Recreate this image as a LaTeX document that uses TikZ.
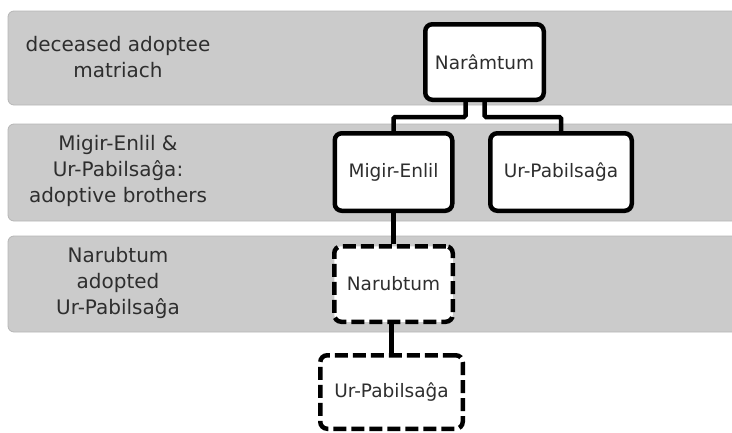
\documentclass[tikz,border=0pt]{standalone}
\usepackage{fontspec}
\setmainfont{DejaVu Sans}
\definecolor{bandgray}{HTML}{CBCBCB}
\definecolor{bandedge}{HTML}{B6B6B6}
\definecolor{inkgray}{HTML}{2E2E2E}
\begin{document}
\begin{tikzpicture}[x=1pt, y=-1pt,
  band/.style={fill=bandgray, draw=bandedge, line width=0.8pt, rounded corners=6pt},
  rowtext/.style={align=center, text=inkgray, font=\fontsize{20}{26}\selectfont},
  person/.style={draw, fill=white, line width=4.5pt, rounded corners=7pt, text=inkgray, font=\fontsize{18.5}{22}\selectfont},
  adoptee/.style={person, dash pattern=on 13pt off 5pt},
  link/.style={line width=4.5pt, rounded corners=1.5pt}]
\useasboundingbox (0,0) rectangle (732,432);
\clip (0,0) rectangle (732,432);

% generation rows
\draw[band] (8,11) rectangle (750,105);
\draw[band] (8,124) rectangle (750,221);
\draw[band] (8,236) rectangle (750,332);

\node[rowtext] (row1) at (118,57) {deceased adoptee\\matriach};
\node[rowtext] (row2) at (118,171) {Migir-Enlil \&\\Ur-Pabilsaĝa:\\adoptive brothers};
\node[rowtext] (row3) at (118,283) {Narubtum\\adopted\\Ur-Pabilsaĝa};

% family members
\node[person, minimum width=118.5pt, minimum height=75.5pt] (naram) at (484.5,62) {Narâmtum};
\node[person, minimum width=117.5pt, minimum height=77.5pt] (migir) at (393.5,172) {Migir-Enlil};
\node[person, minimum width=141.5pt, minimum height=77.5pt] (urpab) at (561,172) {Ur-Pabilsaĝa};
\node[adoptee, minimum width=118.5pt, minimum height=75.5pt] (narub) at (393.5,284) {Narubtum};
\node[adoptee, minimum width=142.5pt, minimum height=73.5pt] (urpabB) at (391.5,392) {Ur-Pabilsaĝa};

% links
\draw[link] ([xshift=-19pt]naram.south) -- ++(0,15) -| (migir.north);
\draw[link] (naram.south) -- ++(0,15) -| (urpab.north);
\draw[link] (migir.south) -- (narub.north);
\draw[link] ([xshift=-2pt]narub.south) -- ([xshift=-2pt]narub.south |- urpabB.north);
\end{tikzpicture}
\end{document}
